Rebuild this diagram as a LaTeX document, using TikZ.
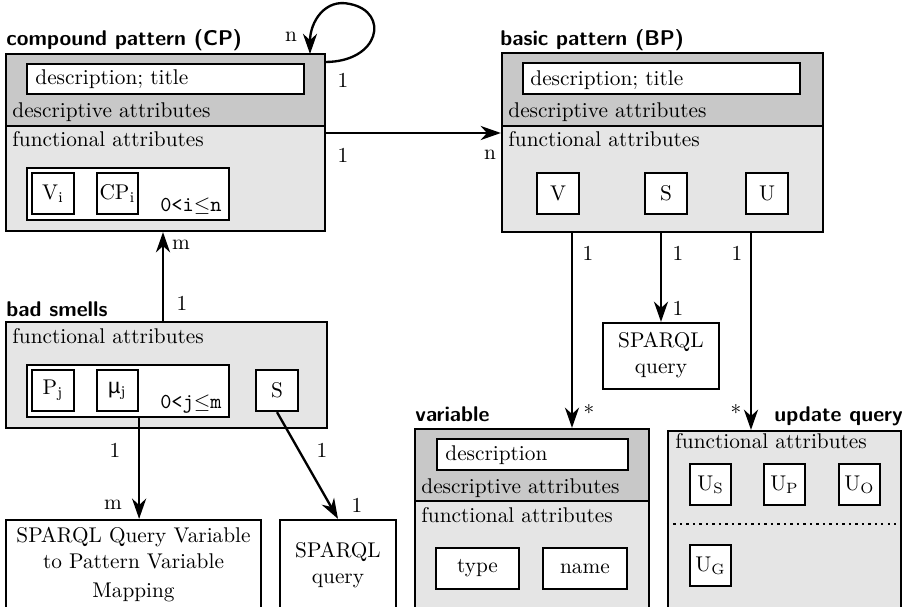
\documentclass[tikz,border=0pt]{standalone}
\usepackage{fontspec}
\newfontfamily\musans{Liberation Sans}
\usetikzlibrary{fit,arrows.meta,calc}
\definecolor{descgray}{RGB}{200,200,200}
\definecolor{funcgray}{RGB}{229,229,229}
\begin{document}
\begin{tikzpicture}[x=0.4695pt,y=-0.4695pt,
  box/.style={draw, line width=1.05pt, inner sep=0pt},
  desc/.style={box, fill=descgray},
  func/.style={box, fill=funcgray},
  wbox/.style={box, fill=white},
  attr/.style={anchor=base west, inner sep=0pt},
  ctext/.style={anchor=base, inner sep=0pt},
  ttl/.style={anchor=base west, inner sep=0pt, font=\sffamily\bfseries},
  lbl/.style={inner sep=0pt},
  arr/.style={line width=1.1pt, -{Stealth[length=9.5pt,width=6.6pt,inset=3pt]}}]
\useasboundingbox (0,0) rectangle (906,607);
\clip (-1,-1) rectangle (907,608);

% ---------- compound pattern ----------
\node[ttl] (cpt) at (6,46) {compound pattern (CP)};
\node[func, fit={(6,54) (325,231)}] (cp) {};
\node[desc, fit={(6,54) (325,126)}] (cpd) {};
\node[wbox, fit={(27,64) (304,94)}] (cpdt) {};
\node[attr] (cpdtx) at (35,84) {description; title};
\node[attr] (cpda) at (12,118) {descriptive attributes};
\node[attr] (cpfa) at (12,147) {functional attributes};
\node[wbox, fit={(27,168) (229,220)}] (cpin) {};
\node[wbox, fit={(32,173) (74,214)}] (cpv) {};
\node[lbl] (cpvx) at (cpv) {$\mathrm{V_i}$};
\node[wbox, fit={(97,173) (138,214)}] (cpcp) {};
\node[lbl] (cpcpx) at (cpcp) {$\mathrm{CP_i}$};
\node[anchor=base east, inner sep=0pt] (cpidx) at (222,211) {\texttt{0<i}$\leq$\texttt{n}};

% ---------- basic pattern ----------
\node[ttl] (bpt) at (500,46) {basic pattern (BP)};
\node[func, fit={(502,53) (823,232)}] (bp) {};
\node[desc, fit={(502,53) (823,126)}] (bpd) {};
\node[wbox, fit={(523,63) (800,94)}] (bpdt) {};
\node[attr] (bpdtx) at (530,85) {description; title};
\node[attr] (bpda) at (508,117) {descriptive attributes};
\node[attr] (bpfa) at (508,147) {functional attributes};
\node[wbox, fit={(537,173) (579,214)}] (bpv) {};
\node[lbl] (bpvx) at (bpv) {V};
\node[wbox, fit={(645,173) (687,214)}] (bps) {};
\node[lbl] (bpsx) at (bps) {S};
\node[wbox, fit={(746,173) (788,214)}] (bpu) {};
\node[lbl] (bpux) at (bpu) {U};

% ---------- bad smells ----------
\node[ttl] (bst) at (6,316) {bad smells};
\node[func, fit={(6,322) (327,428)}] (bs) {};
\node[attr] (bsfa) at (12,343) {functional attributes};
\node[wbox, fit={(27,365) (229,417)}] (bsin) {};
\node[wbox, fit={(32,370) (74,411)}] (bsp) {};
\node[lbl] (bspx) at (bsp) {$\mathrm{P_j}$};
\node[wbox, fit={(97,370) (138,411)}] (mu) {};
\node[lbl] (mux) at (mu) {{\musans µ}$_{\mathrm{j}}$};
\node[anchor=base east, inner sep=0pt] (bsidx) at (222,408) {\texttt{0<j}$\leq$\texttt{m}};
\node[wbox, fit={(256,370) (298,411)}] (bss) {};
\node[lbl] (bssx) at (bss) {S};

% ---------- SPARQL query (middle) ----------
\node[wbox, fit={(603,323) (719,389)}] (sq1) {};
\node[ctext] (sq1a) at (661,347) {SPARQL};
\node[ctext] (sq1b) at (661,373) {query};

% ---------- mapping ----------
\node[wbox, fit={(6,520) (261,650)}] (map) {};
\node[ctext] (mapa) at (133.5,542) {SPARQL Query Variable};
\node[ctext] (mapb) at (133.5,568) {to Pattern Variable};
\node[ctext] (mapc) at (133.5,597) {Mapping};

% ---------- SPARQL query (bottom) ----------
\node[wbox, fit={(280,520) (396,650)}] (sq2) {};
\node[ctext] (sq2a) at (338,557) {SPARQL};
\node[ctext] (sq2b) at (338,583) {query};

% ---------- variable ----------
\node[ttl] (vart) at (415,421) {variable};
\node[func, fit={(415,429) (649,650)}] (var) {};
\node[desc, fit={(415,429) (649,501)}] (vard) {};
\node[wbox, fit={(437,439) (628,470)}] (vardt) {};
\node[attr] (vardtx) at (445,460) {description};
\node[attr] (varda) at (421,493) {descriptive attributes};
\node[attr] (varfa) at (421,522) {functional attributes};
\node[wbox, fit={(436,548) (519,589)}] (vtype) {};
\node[lbl] (vtypex) at (vtype) {type};
\node[wbox, fit={(543,548) (627,589)}] (vname) {};
\node[lbl] (vnamex) at (vname) {name};

% ---------- update query ----------
\node[ttl] (updt) at (774,421) {update query};
\node[func, fit={(668,431) (901,650)}] (upd) {};
\node[attr] (updfa) at (675,448) {functional attributes};
\node[wbox, fit={(690,464) (731,505)}] (us) {};
\node[lbl] (usx) at (us) {$\mathrm{U_S}$};
\node[wbox, fit={(764,464) (805,505)}] (up) {};
\node[lbl] (upx) at (up) {$\mathrm{U_P}$};
\node[wbox, fit={(839,464) (880,505)}] (uo) {};
\node[lbl] (uox) at (uo) {$\mathrm{U_O}$};
\coordinate (dotY) at (0,524);
\draw[line width=1.05pt, dotted] (upd.west |- dotY) -- (upd.east |- dotY);
\node[wbox, fit={(690,545) (731,586)}] (ug) {};
\node[lbl] (ugx) at (ug) {$\mathrm{U_G}$};

% ---------- connectors ----------
\coordinate (loopA) at (325,62);
\coordinate (loopB) at (310,54);
\draw[arr] (loopA) .. controls (380,62) and (390,12) .. (350,4)
                   .. controls (325,-2) and (310,22) .. (loopB);
\node[lbl] (l1) at (291,37) {n};
\node[lbl] (l2) at (343,80) {1};

\coordinate (yA) at (0,133);
\draw[arr] (cp.east |- yA) -- (bp.west |- yA);
\node[lbl] (l3) at (343,155) {1};
\node[lbl] (l4) at (490,155) {n};

\coordinate (xA) at (163,0);
\draw[arr] (bs.north -| xA) -- (cp.south -| xA);
\node[lbl] (l5) at (181,245) {m};
\node[lbl] (l6) at (182,303) {1};

\draw[arr] (bsin.south -| mu.east) -- (map.north -| mu.east);
\node[lbl] (l7) at (115,450) {1};
\node[lbl] (l8) at (113,505) {m};

\draw[arr] (bss.south) -- (sq2.north);
\node[lbl] (l9) at (322,450) {1};
\node[lbl] (l10) at (357,505) {1};

\coordinate (xV) at (572,0);
\draw[arr] (bp.south -| xV) -- (var.north -| xV);
\node[lbl] (l11) at (588,253) {1};
\node[lbl] (l12) at (589,413) {*};

\draw[arr] (bp.south -| sq1.north) -- (sq1.north);
\node[lbl] (l13) at (678,253) {1};
\node[lbl] (l14) at (678,308) {1};

\coordinate (xU) at (751,0);
\draw[arr] (bp.south -| xU) -- (upd.north -| xU);
\node[lbl] (l15) at (737,253) {1};
\node[lbl] (l16) at (736,413) {*};
\end{tikzpicture}
\end{document}
